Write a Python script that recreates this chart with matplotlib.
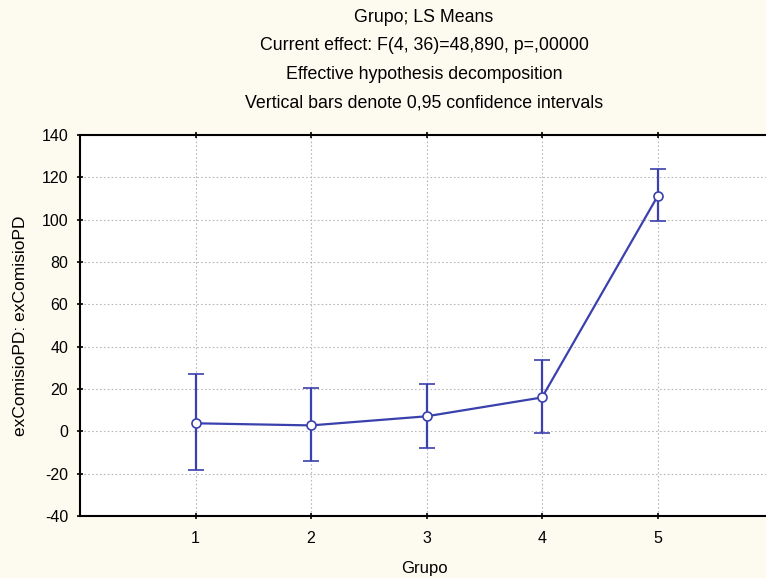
#!/usr/bin/env python3
import matplotlib
matplotlib.use("Agg")
import matplotlib.pyplot as plt

plt.rcParams['font.family'] = ['Liberation Sans', 'DejaVu Sans']
plt.rcParams['axes.unicode_minus'] = False

# LS means per group with 0.95 confidence limits
grupos = [1, 2, 3, 4, 5]
means = [3.8, 2.8, 7.1, 16.0, 111.0]
upper = [26.9, 20.3, 22.2, 33.5, 123.8]
lower = [-18.4, -14.2, -8.0, -1.0, 99.2]

title_lines = [
    "Grupo; LS Means",
    "Current effect: F(4, 36)=48,890, p=,00000",
    "Effective hypothesis decomposition",
    "Vertical bars denote 0,95 confidence intervals",
]

BLUE = "#3a41ad"
BG = "#fdfaf0"

fig = plt.figure(figsize=(7.66, 5.78), dpi=100, facecolor=BG)
ax = fig.add_axes([80 / 766, 62 / 578, 686 / 766, 381 / 578])
ax.set_facecolor("white")

yerr = [[m - l for m, l in zip(means, lower)], [u - m for m, u in zip(means, upper)]]
ax.errorbar(grupos, means, yerr=yerr, color=BLUE, linewidth=1.6, elinewidth=1.6,
            capsize=6, capthick=1.6, marker="o", markersize=6.5,
            markerfacecolor="white", markeredgecolor=BLUE, markeredgewidth=1.2, zorder=3)

ax.set_xlim(0, 686 / 115.5)
ax.set_ylim(-40, 140)
ax.set_xticks(grupos)
ax.set_yticks(range(-40, 141, 20))
ax.grid(True, color="#b8b8b8", linestyle=(0, (1.5, 2)), linewidth=0.8)
ax.tick_params(axis="both", labelsize=11.5, direction="inout", length=5, width=1.2)
ax.tick_params(axis="x", top=True, pad=8)
ax.tick_params(axis="y", pad=6)
for s in ["left", "top", "bottom"]:
    ax.spines[s].set_linewidth(1.5)
ax.spines["right"].set_visible(False)

ax.set_ylabel("exComisioPD: exComisioPD", fontsize=12.5, labelpad=10)
fig.text(424 / 766, 1 - 568 / 578, "Grupo", ha="center", va="center", fontsize=12)

for i, line in enumerate(title_lines):
    fig.text(424 / 766, 1 - (17 + 28.7 * i) / 578, line, ha="center", va="center", fontsize=12.8)

fig.savefig("out.png", dpi=100, facecolor=BG)
